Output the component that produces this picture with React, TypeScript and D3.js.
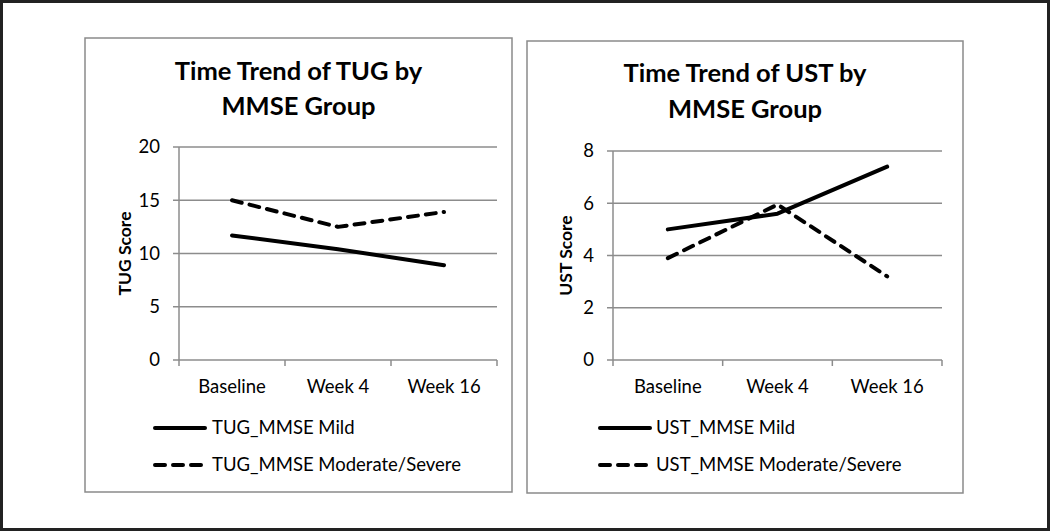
import React from "react";
import * as d3 from "d3";

const categories = ["Baseline", "Week 4", "Week 16"];

const tugMild = [11.7, 10.4, 8.9];
const tugModSev = [15.0, 12.5, 13.9];
const tugTicks = [0, 5, 10, 15, 20];

const ustMild = [5.0, 5.6, 7.4];
const ustModSev = [3.9, 5.95, 3.2];
const ustTicks = [0, 2, 4, 6, 8];

const FONT = "Lato, 'Open Sans', sans-serif";

type PanelProps = {
  box: [number, number, number, number];
  plot: [number, number, number, number];
  titleLines: string[];
  titleY: number[];
  yLabel: string;
  yLabelX: number;
  ticks: number[];
  yMax: number;
  mild: number[];
  modsev: number[];
  legendNames: string[];
  legend: { x0: number; x1: number; tx: number; rows: number[] };
};

function Panel(p: PanelProps) {
  const [bx0, by0, bx1, by1] = p.box;
  const [px0, py0, px1, py1] = p.plot;
  const x = d3.scaleBand<string>().domain(categories).range([px0, px1]);
  const y = d3.scaleLinear().domain([0, p.yMax]).range([py1, py0]);
  const line = d3
    .line<number>()
    .x((_, i) => (x(categories[i]) as number) + x.bandwidth() / 2)
    .y((d) => y(d));
  const cx = (bx0 + bx1) / 2;
  const boundaries = [px0, ...categories.map((c) => (x(c) as number) + x.bandwidth())];
  return (
    <g>
      <rect x={bx0} y={by0} width={bx1 - bx0} height={by1 - by0} fill="#fff" stroke="#8a8a8a" strokeWidth={1.5} />
      {p.titleLines.map((t, i) => (
        <text key={t} x={cx} y={p.titleY[i]} textAnchor="middle" fontFamily={FONT} fontWeight={700} fontSize={25.5} fill="#000">
          {t}
        </text>
      ))}
      {p.ticks.map((t) => (
        <g key={t}>
          <line x1={px0 - 6} x2={px1} y1={y(t)} y2={y(t)} stroke="#8c8c8c" strokeWidth={1.5} />
          <text x={px0 - 19} y={y(t)} dy="0.35em" textAnchor="end" fontFamily={FONT} fontSize={18.5} fill="#000">
            {t}
          </text>
        </g>
      ))}
      <line x1={px0} x2={px0} y1={py0} y2={py1} stroke="#8c8c8c" strokeWidth={1.5} />
      {boundaries.map((b, i) => (
        <line key={i} x1={b} x2={b} y1={py1} y2={py1 + 6} stroke="#8c8c8c" strokeWidth={1.5} />
      ))}
      {categories.map((c) => (
        <text key={c} x={(x(c) as number) + x.bandwidth() / 2} y={393} textAnchor="middle" fontFamily={FONT} fontSize={18.5} fill="#000">
          {c}
        </text>
      ))}
      <text
        transform={`translate(${p.yLabelX},${(py0 + py1) / 2}) rotate(-90)`}
        textAnchor="middle"
        dy="0.35em"
        fontFamily={FONT}
        fontWeight={700}
        fontSize={17.5}
        fill="#000"
      >
        {p.yLabel}
      </text>
      <path d={line(p.mild) as string} fill="none" stroke="#000" strokeWidth={4} strokeLinecap="round" strokeLinejoin="round" />
      <path d={line(p.modsev) as string} fill="none" stroke="#000" strokeWidth={4} strokeLinecap="round" strokeLinejoin="round" strokeDasharray="10,8" />
      {p.legendNames.map((n, i) => (
        <g key={n}>
          <line
            x1={p.legend.x0 + 2}
            x2={p.legend.x1 - 2}
            y1={p.legend.rows[i]}
            y2={p.legend.rows[i]}
            stroke="#000"
            strokeWidth={4}
            strokeLinecap="round"
            strokeDasharray={i === 1 ? "10,8" : undefined}
          />
          <text x={p.legend.tx} y={p.legend.rows[i]} dy="0.35em" fontFamily={FONT} fontSize={18.5} fill="#000">
            {n}
          </text>
        </g>
      ))}
    </g>
  );
}

export default function App() {
  return (
    <svg width={1050} height={531} style={{ position: "absolute", left: 0, top: 0 }}>
      <rect x={0} y={0} width={1050} height={531} fill="#fff" />
      <rect x={1.5} y={1.5} width={1047} height={528} fill="none" stroke="#222" strokeWidth={3} />
      <Panel
        box={[85, 38, 512, 492]}
        plot={[179, 147, 497, 360]}
        titleLines={["Time Trend of TUG by", "MMSE Group"]}
        titleY={[80, 115]}
        yLabel="TUG Score"
        yLabelX={125}
        ticks={tugTicks}
        yMax={20}
        mild={tugMild}
        modsev={tugModSev}
        legendNames={["TUG_MMSE Mild", "TUG_MMSE Moderate/Severe"]}
        legend={{ x0: 153, x1: 207, tx: 212, rows: [428, 465] }}
      />
      <Panel
        box={[527, 41, 963, 493]}
        plot={[613, 151, 942, 360]}
        titleLines={["Time Trend of UST by", "MMSE Group"]}
        titleY={[82, 118]}
        yLabel="UST Score"
        yLabelX={566}
        ticks={ustTicks}
        yMax={8}
        mild={ustMild}
        modsev={ustModSev}
        legendNames={["UST_MMSE Mild", "UST_MMSE Moderate/Severe"]}
        legend={{ x0: 598, x1: 652, tx: 656, rows: [428, 465] }}
      />
    </svg>
  );
}
